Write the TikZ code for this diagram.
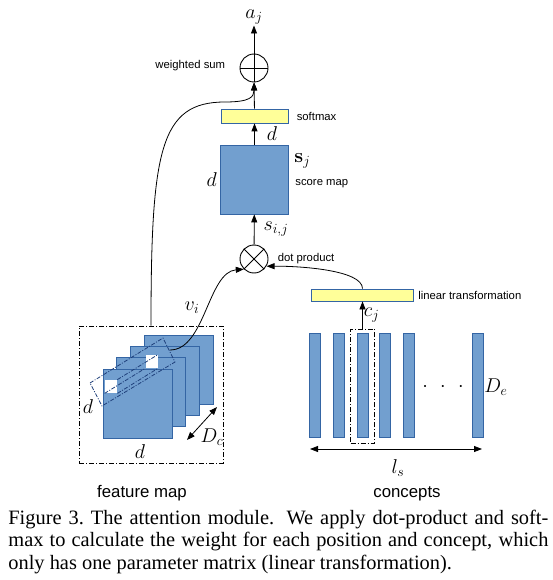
\RequirePackage{fix-cm}
\documentclass[tikz,border=0pt]{standalone}
\usepackage[no-math]{fontspec}
\setmainfont{Liberation Serif}
\setsansfont{Liberation Sans}
\usetikzlibrary{positioning,arrows.meta}

\definecolor{boxblue}{HTML}{729FCF}
\definecolor{lineblue}{HTML}{3465A4}
\definecolor{baryellow}{HTML}{FFFF99}
\definecolor{tubeblue}{HTML}{1F3F7A}

\begin{document}
\begin{tikzpicture}[x=1pt, y=-1pt, line width=0.8pt,
    arr/.style={-{Triangle[length=8pt,width=6pt]}},
    dblarr/.style={{Triangle[length=8pt,width=6pt]}-{Triangle[length=8pt,width=6pt]}},
    op/.style={circle, draw, line width=0.9pt, minimum size=28pt, inner sep=0pt},
    blk/.style={draw=lineblue, fill=boxblue, inner sep=0pt},
    yelbar/.style={draw=lineblue, fill=baryellow, inner sep=0pt},
    lbl/.style={font=\fontsize{11.3}{13}\sffamily, inner sep=1pt},
    mlbl/.style={font=\fontsize{20}{23}\selectfont, inner sep=1pt},
    dbox/.style={draw, dash pattern=on 5pt off 2pt on 1pt off 2pt, inner sep=0pt},
    tube/.style={draw=tubeblue, dash pattern=on 4pt off 1.5pt on 1pt off 1.5pt}]
    \useasboundingbox (0,0) rectangle (553,580);

    \def\mx{254.5};
    \def\cx{362.5};

% weighted sum
    \node[op] (wsum) at (254,68) {};
    \draw (wsum.north) -- (wsum.south) (wsum.west) -- (wsum.east);
    \node[mlbl, anchor=south] (aj) at (254,25.5) {$a_j$};
    \node[lbl, left=13pt of wsum, yshift=2pt] (wsuml) {weighted sum};
    \draw[arr] (wsum) -- (aj);

% softmax
    \node[yelbar, minimum width=67pt, minimum height=14pt] (smax) at (\mx,116) {};
    \node[lbl, right=7pt of smax] (smaxl) {softmax};
    \draw[arr] (smax) -- (wsum);

% score map
    \node[blk, minimum width=68pt, minimum height=69pt] (score) at (\mx,179.5) {};
    \draw[arr] (score) -- node[mlbl, right=11pt] {$d$} (smax);
    \node[mlbl, left=2pt of score] (scored) {$d$};
    \node[mlbl, anchor=west] (sj) at (293,161) {$\mathbf{s}_j$};
    \node[lbl, anchor=west] (scorel) at (294,184) {score map};

% dot product
    \node[op] (dot) at (254,259) {};
    \draw (dot.north west) -- (dot.south east) (dot.north east) -- (dot.south west);
    \node[lbl, right=8pt of dot] (dotl) {dot product};
    \draw[arr] (dot) -- node[mlbl, right=8pt] {$s_{i,j}$} (score);

% feature map
    \node[dbox, minimum width=144pt, minimum height=137pt] (fmbox) at (151,394.5) {};
    \foreach \k in {0,...,3}
        \node[blk, minimum size=69pt] (fm\k) at ({178.5-13.7*\k},{369.5+11.3*\k}) {};
    \node[fill=white, inner sep=0pt, minimum width=12pt, minimum height=13pt] (pf) at (111,386.5) {};
    \node[fill=white, inner sep=0pt, minimum width=12pt, minimum height=13pt] (pb) at (151.5,361.5) {};
    \draw[tube] (90,383) -- (163,338) -- (175,362) -- (102,406) -- cycle;
    \draw[tube] (pf.north east) -- (pb.north east);
    \draw[tube] (pf.south east) -- (pb.south east);
    \draw[tube] (pf.south west) -- (pb.south west);
    \coordinate (tubeend) at (170,350);
    \node[mlbl] (fmd1) at (88,407) {$d$};
    \node[mlbl] (fmd2) at (140,452) {$d$};
    \coordinate (dca) at (187,440);
    \coordinate (dcb) at (217,407);
    \draw[dblarr] (dca) -- (dcb);
    \node[mlbl] (dc) at (212,437) {$D_c$};
    \node[font=\fontsize{16.8}{19}\sffamily, anchor=base] (fml) at (142,497) {feature map};

% v_i into dot product, feature map into weighted sum
    \draw[arr] (tubeend) .. controls (205,350) and (208,272) .. (dot.south west);
    \node[mlbl] (vi) at (192,308) {$v_i$};
    \draw[arr] (fmbox.north) .. controls (151,150) and (160,102) .. (225,102)
        .. controls (250,102) and (254,97) .. (wsum.south);

% concepts
    \node[yelbar, minimum width=102pt, minimum height=12pt] (lin) at (\cx,295) {};
    \node[lbl, right=3pt of lin] (linl) {linear transformation};
    \draw[arr] (lin.north) .. controls (\cx,270) and (300,266) .. (dot.-30);
    \foreach \x [count=\i] in {314.5,338.5,\cx,384.5,408.5,477.5}
        \node[blk, minimum width=11pt, minimum height=104pt] (c\i) at (\x,385) {};
    \node[dbox, minimum width=24pt, minimum height=114pt] (cbox) at (\cx,386) {};
    \draw[arr] (cbox.north) -- node[mlbl, right] {$c_j$} (lin.south);
    \node[mlbl] (dots) at (443,387) {$\cdotp\hspace{9pt}\cdotp\hspace{9pt}\cdotp$};
    \node[mlbl] (de) at (496,387) {$D_e$};
    \coordinate (lsl) at (310,449);
    \coordinate (lsr) at (482,449);
    \draw[dblarr] (lsl) -- (lsr);
    \node[mlbl] (ls) at (398,468) {$l_s$};
    \node[font=\fontsize{16.8}{19}\sffamily, anchor=base] (cl) at (407,497) {concepts};

% caption
    \node[anchor=base west, inner sep=0pt] (caption) at (8,524) {\parbox[t]{540pt}{\fontsize{20.4}{22.5}\selectfont
        Figure 3.\ The attention module.  We apply dot-product and soft-\linebreak
        max to calculate the weight for each position and concept, which\linebreak
        only has one parameter matrix (linear transformation).}};
\end{tikzpicture}
\end{document}
